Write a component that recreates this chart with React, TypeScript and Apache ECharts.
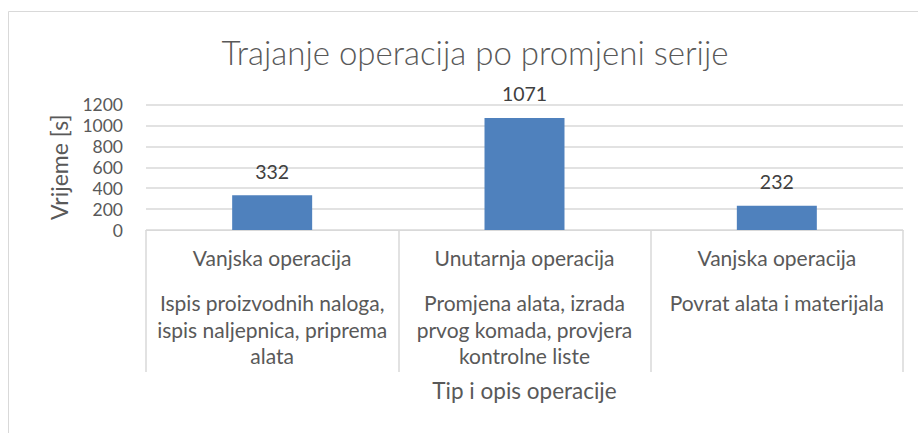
import React, { useEffect, useRef } from "react";
import * as echarts from "echarts";

const operationTypes = ["Vanjska operacija", "Unutarnja operacija", "Vanjska operacija"];
const operationDescriptions = [
  "Ispis proizvodnih naloga,\nispis naljepnica, priprema\nalata",
  "Promjena alata, izrada\nprvog komada, provjera\nkontrolne liste",
  "Povrat alata i materijala",
];
const durations = [332, 1071, 232];
const yTicks = { min: 0, max: 1200, interval: 200 };

const FONT = "Lato, 'Noto Sans', sans-serif";
const TEXT = "#595959";
const GRID = "#d9d9d9";

export default function App() {
  const ref = useRef<HTMLDivElement>(null);
  useEffect(() => {
    document.body.style.margin = "0";
    const chart = echarts.init(ref.current!, undefined, { renderer: "svg" });
    const cats = operationTypes.map((t, i) => `${t}||${operationDescriptions[i]}`);
    chart.setOption({
      animation: false,
      backgroundColor: "#ffffff",
      textStyle: { fontFamily: FONT, color: TEXT },
      graphic: [
        {
          type: "rect",
          shape: { x: 8.5, y: 11.5, width: 920, height: 430 },
          style: { fill: "none", stroke: GRID, lineWidth: 1 },
          silent: true,
        },
      ],
      title: {
        text: "Trajanje operacija po promjeni serije",
        left: 470,
        top: 30,
        textAlign: "center",
        textStyle: { fontFamily: FONT, fontWeight: 300, fontSize: 33, color: TEXT },
      },
      grid: { left: 146, right: 15, top: 104.5, bottom: 203, containLabel: false },
      xAxis: {
        type: "category",
        data: cats,
        name: "Tip i opis operacije",
        nameLocation: "middle",
        nameGap: 149,
        nameTextStyle: { fontFamily: FONT, fontSize: 22.5, color: TEXT },
        axisLine: { lineStyle: { color: GRID, width: 1 } },
        axisTick: { show: true, length: 142, lineStyle: { color: GRID, width: 1.5 } },
        axisLabel: {
          interval: 0,
          margin: 14,
          color: TEXT,
          formatter: (v: string) => {
            const [t, d] = v.split("||");
            return `{a|${t}}\n{s|}\n{b|${d}}`;
          },
          rich: {
            a: { fontFamily: FONT, fontSize: 21, lineHeight: 27, color: TEXT, align: "center" },
            s: { lineHeight: 18, fontSize: 10 },
            b: { fontFamily: FONT, fontSize: 21, lineHeight: 26.7, color: TEXT, align: "center" },
          },
        },
      },
      yAxis: {
        type: "value",
        min: yTicks.min,
        max: yTicks.max,
        interval: yTicks.interval,
        name: "Vrijeme [s]",
        nameLocation: "middle",
        nameGap: 76,
        nameTextStyle: { fontFamily: FONT, fontSize: 23, color: TEXT },
        axisLine: { show: false },
        axisTick: { show: false },
        splitLine: { lineStyle: { color: GRID, width: 1.5 } },
        axisLabel: {
          fontFamily: FONT,
          fontSize: 17.5,
          lineHeight: 19,
          color: TEXT,
          margin: 23,
          formatter: (v: number) => String(v),
        },
      },
      series: [
        {
          type: "bar",
          data: durations,
          barWidth: "31.7%",
          itemStyle: { color: "#4F81BD" },
          label: {
            show: true,
            position: "top",
            distance: 14,
            fontFamily: FONT,
            fontSize: 19.5,
            color: "#404040",
          },
        },
      ],
    });
    return () => chart.dispose();
  }, []);
  return <div ref={ref} style={{ width: 918, height: 433 }} />;
}
